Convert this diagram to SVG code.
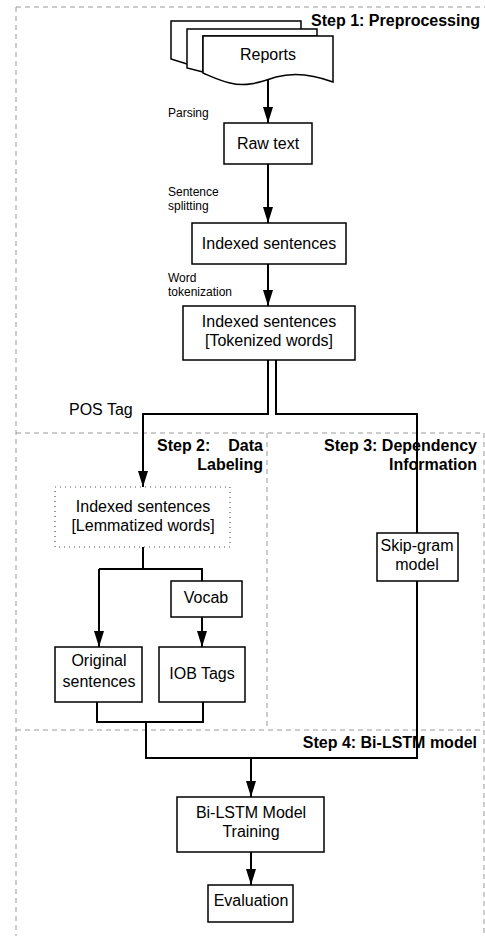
<svg xmlns="http://www.w3.org/2000/svg" width="485" height="936" viewBox="0 0 485 936">
<style>
.bg{fill:#fff}
.lane{stroke:#9a9a9a;stroke-width:1;stroke-dasharray:5 4;fill:none}
.box{fill:#fff;stroke:#000;stroke-width:1.5}
.dot{fill:#fff;stroke:#555;stroke-width:1.2;stroke-dasharray:1 4}
.t{font-family:"Liberation Sans",Arial,sans-serif;font-size:16px;fill:#000;text-anchor:middle}
.s{font-family:"Liberation Sans",Arial,sans-serif;font-size:12px;fill:#000}
.h{font-family:"Liberation Sans",Arial,sans-serif;font-size:16px;font-weight:bold;fill:#000;text-anchor:end}
.c{fill:none;stroke:#000;stroke-width:2}
</style>
<defs>
<marker id="arr" viewBox="0 0 16 10" refX="16" refY="5" markerWidth="16" markerHeight="10" markerUnits="userSpaceOnUse" orient="auto">
<path d="M0,0 L16,5 L0,10 Z" fill="#000"/>
</marker>
</defs>
<rect class="bg" x="0" y="0" width="485" height="936"/>
<g id="lanes">
<path class="lane" d="M16,7 H485"/>
<path class="lane" d="M16,7 V936"/>
<path class="lane" d="M16,433 H484"/>
<path class="lane" d="M484,433 V936"/>
<path class="lane" d="M267,433 V730"/>
<path class="lane" d="M16,730 H484"/>
</g>
<g id="titles">
<text class="h" x="480" y="26">Step 1: Preprocessing</text>
<text class="h" x="263" y="451"><tspan x="157" style="text-anchor:start">Step 2:</tspan><tspan x="263">Data</tspan></text>
<text class="h" x="263" y="470">Labeling</text>
<text class="h" x="477" y="451">Step 3: Dependency</text>
<text class="h" x="477" y="470">Information</text>
<text class="h" x="477" y="748">Step 4: Bi-LSTM model</text>
</g>
<g id="connectors">
<path class="c" d="M268,80 V123" marker-end="url(#arr)"/>
<path class="c" d="M268,164 V223" marker-end="url(#arr)"/>
<path class="c" d="M268,264 V306" marker-end="url(#arr)"/>
<path class="c" d="M268,360 V414 H143 V487" marker-end="url(#arr)"/>
<path class="c" d="M276,360 V414 H417 V533"/>
<path class="c" d="M143,547 V569"/>
<path class="c" d="M99,569 H202 V581"/>
<path class="c" d="M99,569 V647" marker-end="url(#arr)"/>
<path class="c" d="M202,617 V647" marker-end="url(#arr)"/>
<path class="c" d="M97,702 V722 H203 V702"/>
<path class="c" d="M146,722 V758 H417 V581"/>
<path class="c" d="M251,758 V797" marker-end="url(#arr)"/>
<path class="c" d="M251,852 V885" marker-end="url(#arr)"/>
<text class="s" x="168" y="117">Parsing</text>
<text class="s" x="168" y="196">Sentence</text>
<text class="s" x="168" y="210">splitting</text>
<text class="s" x="168" y="282">Word</text>
<text class="s" x="168" y="296">tokenization</text>
<text class="t" x="69" y="415" style="text-anchor:start">POS Tag</text>
</g>
<g id="reports">
<path class="box" d="M171,21 H301 V36 H203 V70 L187,64 L171,59 Z"/>
<path class="box" d="M187,29 H317 V36 H203 V72 L187,68 Z"/>
<path class="box" d="M203,36 H333 V82 C312,74 294,72 276,77 C258,83 245,87 230,83 C218,80 210,76 203,73 Z"/>
<text class="t" x="268" y="60">Reports</text>
</g>
<g id="rawtext">
<rect class="box" x="224" y="123" width="88" height="41"/>
<text class="t" x="268" y="149">Raw text</text>
</g>
<g id="indexed">
<rect class="box" x="192" y="223" width="154" height="41"/>
<text class="t" x="269" y="249">Indexed sentences</text>
</g>
<g id="tokenized">
<rect class="box" x="183" y="306" width="172" height="54"/>
<text class="t" x="269" y="327">Indexed sentences</text>
<text class="t" x="269" y="346">[Tokenized words]</text>
</g>
<g id="lemmatized">
<rect class="dot" x="55" y="487" width="175" height="60"/>
<text class="t" x="143" y="512">Indexed sentences</text>
<text class="t" x="143" y="531">[Lemmatized words]</text>
</g>
<g id="vocab">
<rect class="box" x="171" y="581" width="71" height="36"/>
<text class="t" x="206" y="603">Vocab</text>
</g>
<g id="original">
<rect class="box" x="55" y="647" width="87" height="55"/>
<text class="t" x="99" y="666">Original</text>
<text class="t" x="99" y="687">sentences</text>
</g>
<g id="iob">
<rect class="box" x="159" y="647" width="86" height="55"/>
<text class="t" x="202" y="679">IOB Tags</text>
</g>
<g id="skipgram">
<rect class="box" x="377" y="533" width="81" height="48"/>
<text class="t" x="417" y="551">Skip-gram</text>
<text class="t" x="417" y="570">model</text>
</g>
<g id="bilstm">
<rect class="box" x="177" y="797" width="147" height="55"/>
<text class="t" x="251" y="818">Bi-LSTM Model</text>
<text class="t" x="251" y="837">Training</text>
</g>
<g id="evaluation">
<rect class="box" x="208" y="885" width="85" height="37"/>
<text class="t" x="251" y="906">Evaluation</text>
</g>
</svg>
